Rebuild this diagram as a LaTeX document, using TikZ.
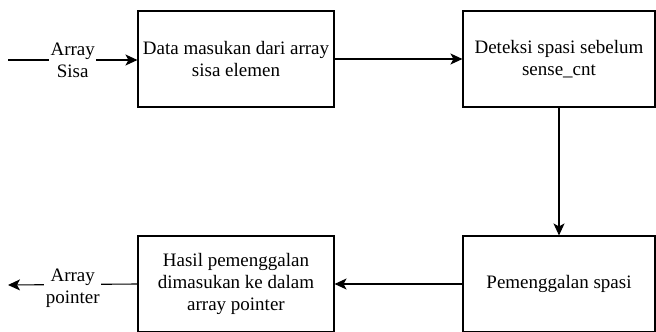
\documentclass[tikz,border=0pt]{standalone}
\usepackage{fontspec}
\setmainfont{Liberation Serif}
\newfontfamily\tmsfont{Liberation Serif}
\usetikzlibrary{arrows.meta}
\tikzset{
  blk/.style={draw, line width=1.1pt, minimum width=196pt, minimum height=96pt, align=center, inner sep=2pt},
  conn/.style={line width=1.1pt, -{Stealth[length=12pt,width=11pt,inset=3pt]}},
  lbl/.style={fill=white, align=center, inner sep=1.5pt}
}
\begin{document}
\begin{tikzpicture}[x=1pt,y=-1pt,font=\tmsfont\fontsize{19}{22}\selectfont]
\clip (0,0) rectangle (656,332);
\node[blk] (b1) at (236,59) {Data masukan dari array\\sisa elemen};
\node[blk, minimum width=192pt] (b2) at (559,59) {Deteksi spasi sebelum\\sense\_cnt};
\node[blk, minimum width=192pt] (b3) at (559,284) {Pemenggalan spasi};
\node[blk] (b4) at (236,284) {Hasil pemenggalan\\dimasukan ke dalam\\array pointer};
\coordinate (inS) at (8,60);
\coordinate (outE) at (8,285);
\draw[conn] (inS) -- (b1.west |- inS) node[lbl, midway] {Array\\Sisa};
\draw[conn] (b1.east) -- (b2.west);
\draw[conn] (b2.south) -- (b3.north);
\draw[conn] (b3.west) -- (b4.east);
\draw[conn] (b4.west) -- (outE) node[lbl, midway, yshift=-4pt] {Array\\pointer};
\end{tikzpicture}
\end{document}
